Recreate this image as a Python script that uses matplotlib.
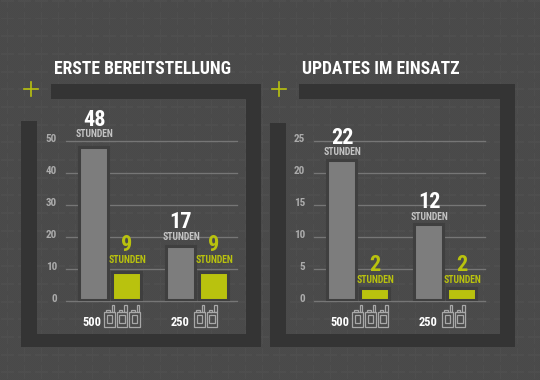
# plot.py
#
# Two grouped bar panels (Erste Bereitstellung / Updates im Einsatz) on a dark
# tiled background, saved as out.png at 540x380.

import numpy as np
import matplotlib
matplotlib.use('Agg')
import matplotlib.pyplot as plt
from matplotlib.patches import Rectangle
from matplotlib.transforms import ScaledTranslation

matplotlib.rcParams['font.family'] = ['Roboto Condensed', 'Barlow Condensed', 'Roboto', 'DejaVu Sans']
matplotlib.rcParams['font.weight'] = 'bold'

# Data
group_labels = ['500', '250']
radios_per_group = [3, 2]
unit_label = 'STUNDEN'

titles = ['ERSTE BEREITSTELLUNG', 'UPDATES IM EINSATZ']
first_deploy_grey = [48, 17]
first_deploy_yellow = [9, 9]
updates_grey = [22, 12]
updates_yellow = [2, 2]
first_deploy_ticks = [0, 10, 20, 30, 40, 50]
updates_ticks = [0, 5, 10, 15, 20, 25]

COLOR_GREY_BAR = '#7d7d7d'
COLOR_YELLOW = '#b9c20e'
COLOR_BAR_EDGE = '#3f3f3f'
COLOR_FRAME = '#343434'
COLOR_GRID = '#767676'
COLOR_TICK = '#ababab'
COLOR_UNIT = '#c4c4c4'
COLOR_ICON = '#a8a8a8'

W, H = 540, 380
BAR_OFFSET = 0.19
BAR_WIDTH = 0.33
BAR_FLOOR_PX = 1.5


def background():
    # fine checker texture plus faint repeating crosses
    yy, xx = np.indices((H, W))
    img = 73.0 + 2.0 * ((xx + yy) % 2)
    cx = np.abs((xx - 7 + 8.5) % 17 - 8.5)
    cy = np.abs((yy - 18 + 8.85) % 17.7 - 8.85)
    img[(cx < 1.0) & (cy < 7.0)] += 4
    img[(cy < 1.0) & (cx < 7.0) & (cx >= 1.0)] += 4
    return img


def draw_frame(ov, x0, x1, top_start, left_top):
    # open dark frame: top, right, bottom and left strips
    strips = [(top_start, 84, x1 - top_start, 14.5),
              (x1 - 15, 84, 15, 262.5),
              (x0, 334, x1 - x0, 12.5),
              (x0, left_top, 15.5, 346.5 - left_top)]
    for x, y, w, h in strips:
        ov.add_patch(Rectangle((x, y), w, h, facecolor=COLOR_FRAME, edgecolor='none'))


def draw_radio(ov, x, y=312):
    # small walkie-talkie outline, x is the left edge of the body
    kw = dict(facecolor='none', edgecolor=COLOR_ICON, linewidth=0.9)
    ov.add_patch(Rectangle((x, y), 10.5, 14.5, **kw))
    ov.add_patch(Rectangle((x + 2.5, y + 3), 5.5, 8, **kw))
    ov.add_patch(Rectangle((x + 7.5, y - 7), 2.5, 7, **kw))
    ov.add_patch(Rectangle((x + 2, y - 2.5), 3.5, 2.5, **kw))


def draw_panel(fig, ax_left, grey, yellow, ticks, gaps):
    ax = fig.add_axes([ax_left / W, (H - 301) / H, 171 / W, 160.3 / H])
    ax.patch.set_visible(False)
    ax.set_xlim(-0.506, 1.46)
    ax.set_ylim(ticks[0], ticks[-1])
    px_to_val = ticks[-1] / 160.3
    floor = BAR_FLOOR_PX * px_to_val

    x = np.arange(len(grey))
    for pos, vals, col, num_col, unit_col, side in [
            (x - BAR_OFFSET, grey, COLOR_GREY_BAR, 'white', COLOR_UNIT, 0),
            (x + BAR_OFFSET, yellow, COLOR_YELLOW, COLOR_YELLOW, COLOR_YELLOW, 1)]:
        ax.bar(pos, [v - floor for v in vals], width=BAR_WIDTH, bottom=floor, color=col,
               edgecolor=COLOR_BAR_EDGE, linewidth=2.2, zorder=3)
        for i, (px, v) in enumerate(zip(pos, vals)):
            unit_gap, num_gap = gaps[side][i]
            ax.annotate(unit_label, xy=(px, v), xytext=(0.4, (unit_gap - 1) * 0.72),
                        textcoords='offset points', ha='center', va='center',
                        fontsize=7.0, color=unit_col, zorder=5, annotation_clip=False)
            ax.annotate(str(v), xy=(px, v), xytext=(0.4, (num_gap - 1) * 0.72),
                        textcoords='offset points', ha='center', va='center',
                        fontsize=16, color=num_col, zorder=5, annotation_clip=False)

    ax.set_xticks([])
    ax.set_yticks(ticks)
    ax.tick_params(axis='y', length=0, pad=6.5, labelsize=8, labelcolor=COLOR_TICK)
    # tick labels sit a little above their lines
    lift = ScaledTranslation(0, 3 / 100, fig.dpi_scale_trans)
    for lab in ax.get_yticklabels():
        lab.set_transform(lab.get_transform() + lift)
    ax.grid(True, axis='y', color=COLOR_GRID, linewidth=0.95, zorder=1)
    ax.set_axisbelow(True)
    for sp in ax.spines.values():
        sp.set_visible(False)
    for line in ax.get_ygridlines():
        line.set_clip_on(False)
    return ax


def main():
    fig = plt.figure(figsize=(W / 100, H / 100), dpi=100)

    # pixel-space layer for the background, frames, titles and icons
    ov = fig.add_axes([0, 0, 1, 1])
    ov.axis('off')
    ov.imshow(background(), cmap='gray', vmin=0, vmax=255, extent=(0, W, H, 0),
              interpolation='nearest', aspect='auto', zorder=0)

    draw_frame(ov, 21, 261, 51, 121)
    draw_frame(ov, 270, 515, 299, 123)

    for tx, cross_x, title in zip([54, 302], [31, 278.7], titles):
        ov.text(tx, 69.5, title, color='white', fontsize=12.7, ha='left', va='center')
        ov.plot([cross_x - 7, cross_x + 7], [88.5, 88.5], color=COLOR_YELLOW, lw=1.2)
        ov.plot([cross_x, cross_x], [81.5, 95.5], color=COLOR_YELLOW, lw=1.2)
    ov.set_xlim(0, W)
    ov.set_ylim(H, 0)

    # group labels and radio icons under each panel
    label_x = [[92, 180], [340, 428]]
    icon_x = [[104, 194], [352.3, 442]]
    for p in range(2):
        for g, label in enumerate(group_labels):
            ov.text(label_x[p][g], 322, label, color='white', fontsize=9,
                    ha='center', va='center')
            for n in range(radios_per_group[g]):
                draw_radio(ov, icon_x[p][g] + n * 12.7)

    # (unit gap, number gap) above each bar top, in pixels
    gaps_left = [[(14, 28), (10.5, 25.5)], [(13, 28), (13, 28)]]
    gaps_right = [[(8.5, 23), (8.5, 23)], [(9.5, 24.5), (9.5, 24.5)]]
    draw_panel(fig, 66, first_deploy_grey, first_deploy_yellow, first_deploy_ticks, gaps_left)
    draw_panel(fig, 314, updates_grey, updates_yellow, updates_ticks, gaps_right)

    fig.savefig('out.png', dpi=100)
    plt.close(fig)


if __name__ == '__main__':
    main()
